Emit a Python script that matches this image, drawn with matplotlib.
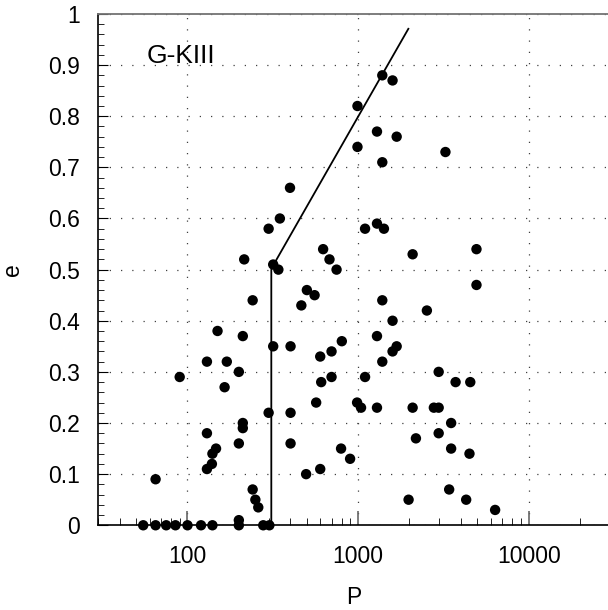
import matplotlib
matplotlib.use("Agg")
import matplotlib.pyplot as plt
from matplotlib.ticker import FixedLocator, FuncFormatter, LogLocator, MultipleLocator, NullFormatter

plt.rcParams["font.family"] = ["Liberation Sans", "DejaVu Sans"]

# Orbital period (days) and eccentricity.
period = [
    55, 65, 75, 85, 100, 120, 140, 200, 278, 302, 200,
    65, 90, 130, 150, 170, 165, 200, 211, 211, 211, 200, 130, 130, 139, 140, 147,
    241, 250, 260, 241, 299, 318, 402, 402, 402, 465,
    399, 348, 299, 215, 318, 341,
    1387, 1593, 992, 1291, 1684, 992, 1387, 3253,
    1099, 1291, 1418, 624, 680, 748, 2089, 4946, 4946, 501, 556, 1387,
    2532, 1593, 1291, 1684, 1593, 1387, 803, 699, 600, 699, 608, 1099,
    2969, 3731, 4549, 568, 987, 1041, 1291, 2089, 2782, 2969,
    3513, 2969, 2184, 3513, 4500, 795, 898, 600, 496, 3421, 1978, 4304, 6361,
]
ecc = [
    0, 0, 0, 0, 0, 0, 0, 0, 0, 0, 0.01,
    0.09, 0.29, 0.32, 0.38, 0.32, 0.27, 0.30, 0.37, 0.20, 0.19, 0.16, 0.18, 0.11, 0.12, 0.14, 0.15,
    0.07, 0.05, 0.035, 0.44, 0.22, 0.35, 0.35, 0.22, 0.16, 0.43,
    0.66, 0.60, 0.58, 0.52, 0.51, 0.50,
    0.88, 0.87, 0.82, 0.77, 0.76, 0.74, 0.71, 0.73,
    0.58, 0.59, 0.58, 0.54, 0.52, 0.50, 0.53, 0.54, 0.47, 0.46, 0.45, 0.44,
    0.42, 0.40, 0.37, 0.35, 0.34, 0.32, 0.36, 0.34, 0.33, 0.29, 0.28, 0.29,
    0.30, 0.28, 0.28, 0.24, 0.24, 0.23, 0.23, 0.23, 0.23, 0.23,
    0.20, 0.18, 0.17, 0.15, 0.14, 0.15, 0.13, 0.11, 0.10, 0.07, 0.05, 0.05, 0.03,
]

# Upper envelope curve
curve_p = [310, 310, 333, 1000, 1972]
curve_e = [0.0, 0.50, 0.52, 0.799, 0.971]

x_ticks = [100, 1000, 10000]
y_ticks = [0, 0.1, 0.2, 0.3, 0.4, 0.5, 0.6, 0.7, 0.8, 0.9, 1.0]

fig = plt.figure(figsize=(6.08, 6.10), dpi=100)
ax = fig.add_axes([0.1617, 0.1389, 0.8416, 0.8382])

ax.plot(curve_p, curve_e, color="black", lw=1.3, zorder=3)
ax.scatter(period, ecc, s=56, color="black", edgecolors="none", zorder=4, clip_on=False)

ax.set_xscale("log")
ax.set_xlim(30, 30000)
ax.set_ylim(0, 1)

ax.xaxis.set_major_locator(FixedLocator(x_ticks))
ax.xaxis.set_major_formatter(FuncFormatter(lambda v, _: f"{v:.0f}"))
ax.xaxis.set_minor_locator(LogLocator(base=10, subs=range(2, 10)))
ax.xaxis.set_minor_formatter(NullFormatter())
ax.yaxis.set_major_locator(FixedLocator(y_ticks))
ax.yaxis.set_major_formatter(FuncFormatter(lambda v, _: f"{v:g}"))
ax.yaxis.set_minor_locator(MultipleLocator(0.02))

ax.tick_params(which="both", direction="in", labelsize=16.5, top=False, right=False)
ax.tick_params(axis="y", which="major", length=7, pad=13)
ax.tick_params(axis="y", which="minor", length=4)
ax.tick_params(axis="x", which="major", length=10, pad=14, color="0.4", width=1.2)
ax.tick_params(axis="x", which="minor", length=5)

ax.grid(True, which="major", ls=(0, (1, 8)), color="0.25", lw=0.9)

ax.spines["right"].set_visible(False)
ax.spines["top"].set_color("0.45")
ax.spines["top"].set_linewidth(1.3)
for side in ("left", "bottom"):
    ax.spines[side].set_linewidth(1.2)

ax.text(0.095, 0.9036, "G-KIII", transform=ax.transAxes, fontsize=19, va="baseline")

ax.set_xlabel("P", fontsize=16.5, va="center")
ax.xaxis.set_label_coords(0.5, -0.142)
ax.set_ylabel("e", fontsize=16.5, va="center")
ax.yaxis.set_label_coords(-0.168, 0.5)

fig.savefig("out.png", dpi=100)
